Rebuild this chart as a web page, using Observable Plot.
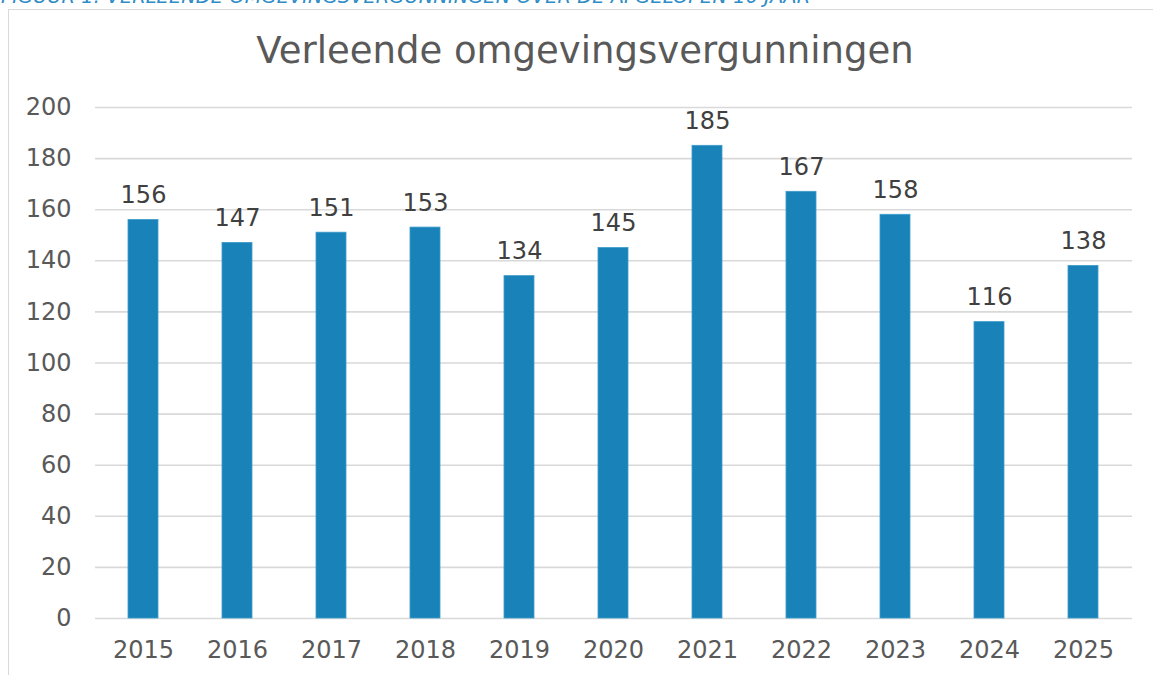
<!DOCTYPE html>
<html>
<head>
<meta charset="utf-8">
<script src="https://cdn.jsdelivr.net/npm/d3@7"></script>
<script src="https://cdn.jsdelivr.net/npm/@observablehq/plot@0.6"></script>
<style>
  html, body { margin: 0; padding: 0; background: #fff; overflow: hidden; }
  body { width: 1153px; height: 675px; position: relative; font-family: "DejaVu Sans", Verdana, sans-serif; }
  #caption { position: absolute; left: 1px; top: -15px; font-family: "DejaVu Sans", Verdana, sans-serif; font-size: 19.5px; font-style: oblique; color: #2e8cc6; white-space: nowrap; }
  #frame { position: absolute; left: 8px; top: 9px; width: 1160px; height: 700px; border: 1.5px solid #d9d9d9; box-sizing: border-box; }
  #title { position: absolute; left: 0; width: 1170px; top: 30px; text-align: center; font-size: 37px; color: #595959; line-height: 42px; }
  #chart { position: absolute; left: 0; top: 80px; }
</style>
</head>
<body>
<div id="caption">FIGUUR 1: VERLEENDE OMGEVINGSVERGUNNINGEN OVER DE AFGELOPEN 10 JAAR</div>
<div id="frame"></div>
<div id="title">Verleende omgevingsvergunningen</div>
<div id="chart"></div>
<script>
const years = ["2015","2016","2017","2018","2019","2020","2021","2022","2023","2024","2025"];
const counts = [156, 147, 151, 153, 134, 145, 185, 167, 158, 116, 138];
const yTicks = [0, 20, 40, 60, 80, 100, 120, 140, 160, 180, 200];

const data = years.map((y, i) => ({year: y, value: counts[i]}));

const chart = Plot.plot({
  width: 1153,
  height: 595,
  marginLeft: 95,
  marginRight: 21,
  marginTop: 27,
  marginBottom: 57,
  style: {fontFamily: "'DejaVu Sans', Verdana, sans-serif", fontSize: "24px", color: "#595959", background: "transparent"},
  x: {domain: years, paddingInner: 0.68, paddingOuter: 0.34, label: null, tickSize: 0, tickPadding: 22},
  y: {domain: [0, 200], ticks: yTicks, label: null, tickSize: 0, tickPadding: 24},
  marks: [
    Plot.ruleY(yTicks, {stroke: "#d9d9d9", strokeWidth: 1.6}),
    Plot.barY(data, {x: "year", y: "value", fill: "#1982b8", stroke: "#3d9bcb", strokeWidth: 0.8}),
    Plot.text(data, {x: "year", y: "value", text: d => String(d.value), lineAnchor: "bottom", dy: -17, fill: "#404040", fontSize: 24}),
    Plot.axisX({tickSize: 0, tickPadding: 22, fill: "#595959", fontSize: 24}),
    Plot.axisY({ticks: yTicks, tickSize: 0, tickPadding: 24, fill: "#595959", fontSize: 24})
  ]
});
document.getElementById("chart").appendChild(chart);
</script>
</body>
</html>
